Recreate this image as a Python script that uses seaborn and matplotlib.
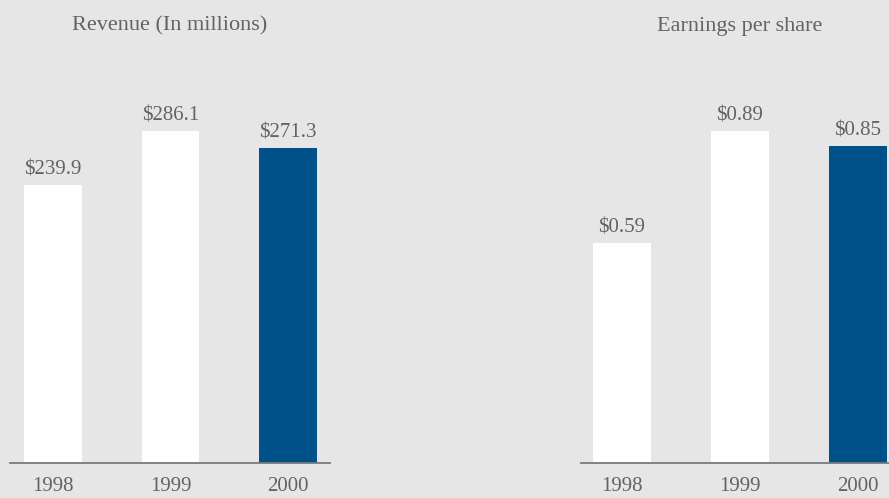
import matplotlib
matplotlib.use("Agg")
import matplotlib.pyplot as plt
import seaborn as sns
import pandas as pd

years = ["1998", "1999", "2000"]
revenue = [239.9, 286.1, 271.3]
eps = [0.59, 0.89, 0.85]
revenue_labels = ["$239.9", "$286.1", "$271.3"]
eps_labels = ["$0.59", "$0.89", "$0.85"]
bar_colors = ["#ffffff", "#ffffff", "#00508a"]

BG = "#e6e6e6"
TXT = "#636363"

sns.set_theme(style="white")
plt.rcParams["font.family"] = ["Liberation Serif", "DejaVu Serif"]

fig = plt.figure(figsize=(8.89, 4.98), dpi=100, facecolor=BG)
W, H = 889, 498
base = (H - 463) / H
top = 0.9
ax_h_px = (top - base) * H

axL = fig.add_axes([10 / W, base, (330 - 10) / W, top - base])
axR = fig.add_axes([581 / W, base, (889 - 581) / W, top - base])


def draw(ax, vals, labels, ymax, xlim):
    df = pd.DataFrame({"year": years, "value": vals})
    sns.barplot(data=df, x="year", y="value", hue="year", palette=bar_colors,
                legend=False, width=0.49, saturation=1, ax=ax, edgecolor="none")
    ax.set_facecolor(BG)
    ax.set_ylim(0, ymax)
    ax.set_xlim(*xlim)
    for s in ["top", "right", "left"]:
        ax.spines[s].set_visible(False)
    ax.spines["bottom"].set_color("#7a7a7a")
    ax.spines["bottom"].set_linewidth(1.3)
    ax.set_yticks([])
    ax.set_xlabel("")
    ax.set_ylabel("")
    ax.tick_params(axis="x", length=0, pad=10, labelsize=15, labelcolor=TXT)
    for i, (v, lab) in enumerate(zip(vals, labels)):
        ax.annotate(lab, (i, v), xytext=(0, 4), textcoords="offset points",
                    ha="center", va="bottom", fontsize=15, color=TXT)


k_rev = 332 / 286.1
k_eps = 332 / 0.89
draw(axL, revenue, revenue_labels, ax_h_px / k_rev, (-0.366, 2.357))
draw(axR, eps, eps_labels, ax_h_px / k_eps, (-0.347, 2.263))

fig.text(170 / W, 1 - 26 / H, "Revenue (In millions)", ha="center", va="center",
         fontsize=16, color=TXT)
fig.text(740 / W, 1 - 26 / H, "Earnings per share", ha="center", va="center",
         fontsize=16, color=TXT)

fig.savefig("out.png", dpi=100, facecolor=BG)
